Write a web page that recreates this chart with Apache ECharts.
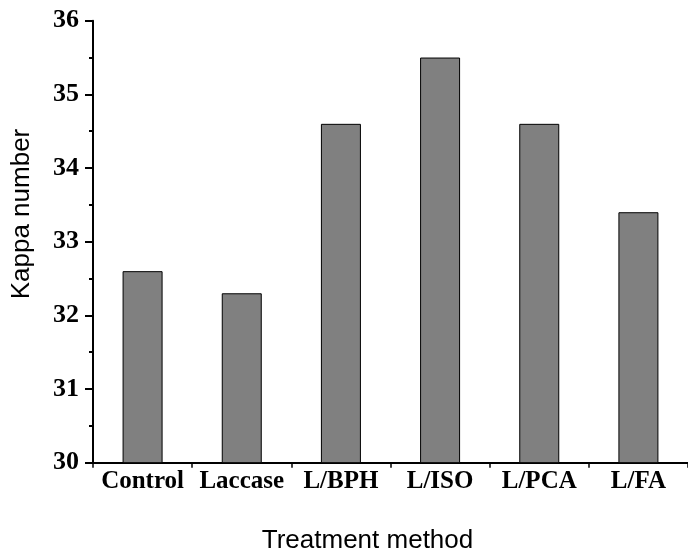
<!DOCTYPE html>
<html>
<head>
<meta charset="utf-8">
<script src="https://cdn.jsdelivr.net/npm/echarts@6/dist/echarts.min.js"></script>
<style>html,body{margin:0;padding:0;background:#fff}#c{width:688px;height:554px}</style>
</head>
<body>
<div id="c"></div>
<script>
var categories = ['Control', 'Laccase', 'L/BPH', 'L/ISO', 'L/PCA', 'L/FA'];
var kappaValues = [32.6, 32.3, 34.6, 35.5, 34.6, 33.4];
var yAxisTitle = 'Kappa number';
var xAxisTitle = 'Treatment method';

var chart = echarts.init(document.getElementById('c'), null, {renderer: 'canvas'});
var serif = 'Liberation Serif, Times New Roman, serif';
var sans = 'Liberation Sans, Arial, sans-serif';
chart.setOption({
  animation: false,
  backgroundColor: '#fff',
  grid: {left: 93, top: 20.7, width: 597, height: 442, containLabel: false},
  xAxis: {
    type: 'category',
    data: categories,
    boundaryGap: true,
    axisLine: {lineStyle: {color: '#000', width: 2}},
    axisTick: {show: true, length: 5, lineStyle: {color: '#000', width: 1.5}},
    axisLabel: {color: '#000', fontFamily: serif, fontWeight: 'bold', fontSize: 25, margin: 6, interval: 0},
    splitLine: {show: false}
  },
  yAxis: {
    type: 'value',
    min: 30, max: 36, interval: 1,
    axisLine: {show: true, lineStyle: {color: '#000', width: 2}},
    axisTick: {show: true, length: 8, lineStyle: {color: '#000', width: 2}},
    minorTick: {show: true, splitNumber: 2, length: 4, lineStyle: {color: '#000', width: 2}},
    axisLabel: {color: '#000', fontFamily: serif, fontWeight: 'bold', fontSize: 26, margin: 14},
    splitLine: {show: false}
  },
  series: [{
    type: 'bar',
    data: kappaValues,
    barWidth: 40,
    itemStyle: {color: '#808080', borderColor: '#000', borderWidth: 1}
  }],
  graphic: [
    {type: 'text', x: 22, y: 214, rotation: Math.PI / 2, style: {text: yAxisTitle, fontFamily: sans, fontSize: 26, fill: '#000', align: 'center', verticalAlign: 'middle'}},
    {type: 'text', x: 367.5, y: 541, style: {text: xAxisTitle, fontFamily: sans, fontSize: 26, fill: '#000', align: 'center', verticalAlign: 'middle'}}
  ]
});
</script>
</body>
</html>
